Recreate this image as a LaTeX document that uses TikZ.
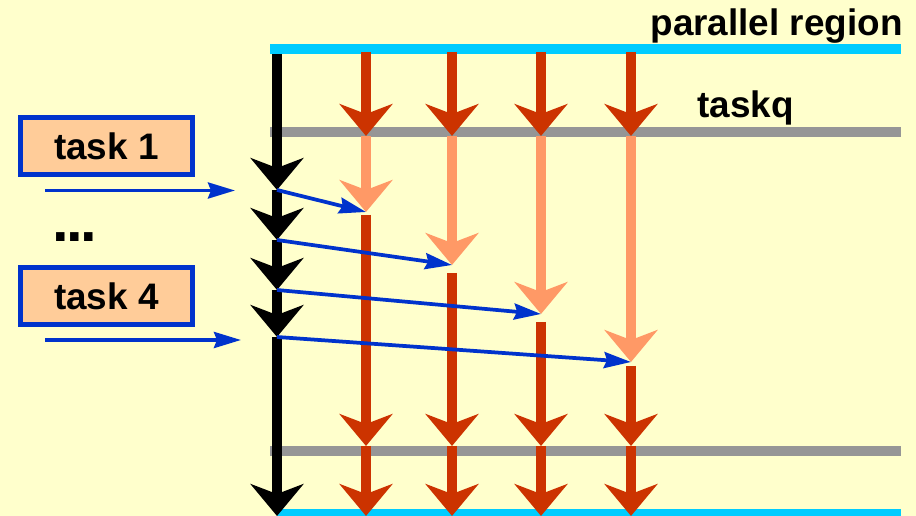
\documentclass[tikz,border=0pt]{standalone}
\usepackage{fontspec}
\setmainfont{Liberation Sans}
\usepackage{tikz}
\usetikzlibrary{arrows.meta}
\definecolor{bgyellow}{HTML}{FFFFCC}
\definecolor{regioncyan}{HTML}{00CCFF}
\definecolor{bargray}{HTML}{969696}
\definecolor{workred}{HTML}{CC3300}
\definecolor{waitorange}{HTML}{FF9966}
\definecolor{queueblue}{HTML}{0033CC}
\definecolor{taskpeach}{HTML}{FFCC99}

\begin{document}
\begin{tikzpicture}[x=0.02cm,y=-0.02cm,font=\bfseries\fontsize{21}{25}\selectfont]
		\tikzstyle{flow}=[line width=0.2cm,-{Stealth[length=0.64cm,width=1.06cm,inset=0.2cm]}]
		\tikzstyle{link}=[queueblue,line width=0.075cm,-{Stealth[length=0.54cm,width=0.32cm,inset=0.06cm]}]
		\tikzstyle{bar}=[line width=0.2cm]
		\tikzstyle{task}=[draw=queueblue,fill=taskpeach,line width=0.1cm,
			minimum width=3.44cm,minimum height=1.14cm,inner sep=0pt]
		
		\useasboundingbox (0,0) rectangle (916,516);
		\fill[bgyellow] (0,0) rectangle (916,516);
		
		% region / taskq lines
		\coordinate (r0) at (270,49);    \coordinate (r1) at (901,49);
		\coordinate (q0) at (270,132);   \coordinate (q1) at (901,132);
		\coordinate (b0) at (270,451.5); \coordinate (b1) at (901,451.5);
		\coordinate (e0) at (277,514);   \coordinate (e1) at (901,514);
		\draw[bar,regioncyan] (r0) -- (r1);
		\draw[bar,bargray] (q0) -- (q1);
		\draw[bar,bargray] (b0) -- (b1);
		\draw[bar,regioncyan] (e0) -- (e1);
		
		\node[anchor=base east,inner sep=0pt] (par) at (903,36) {parallel region};
		\node[anchor=base west,inner sep=0pt] (tq) at (697,118) {taskq};
		
		% master thread
		\coordinate (m0) at (277,54);
		\coordinate (m1) at (277,190);
		\coordinate (m2) at (277,240);
		\coordinate (m3) at (277,290);
		\coordinate (m4) at (277,337);
		\coordinate (m5) at (277,516);
		
		\path[flow,black]
		(m0) edge (m1)
		(m1) edge (m2)
		(m2) edge (m3)
		(m3) edge (m4)
		(m4) edge (m5);
		
		% worker threads
		\coordinate (c1a) at (366,52);  \coordinate (c1b) at (366,136);
		\coordinate (c1c) at (366,212); \coordinate (c1d) at (366,446);
		\coordinate (c1e) at (366,516);
		\coordinate (c2a) at (452,52);  \coordinate (c2b) at (452,136);
		\coordinate (c2c) at (452,265); \coordinate (c2d) at (452,446);
		\coordinate (c2e) at (452,516);
		\coordinate (c3a) at (541,52);  \coordinate (c3b) at (541,136);
		\coordinate (c3c) at (541,314); \coordinate (c3d) at (541,446);
		\coordinate (c3e) at (541,516);
		\coordinate (c4a) at (631,52);  \coordinate (c4b) at (631,136);
		\coordinate (c4c) at (631,362); \coordinate (c4d) at (631,446);
		\coordinate (c4e) at (631,516);
		
		\path[flow,workred]
		(c1a) edge (c1b)
		(c2a) edge (c2b)
		(c3a) edge (c3b)
		(c4a) edge (c4b);
		\path[flow,waitorange]
		(c1b) edge (c1c)
		(c2b) edge (c2c)
		(c3b) edge (c3c)
		(c4b) edge (c4c);
		\path[flow,workred]
		(c1c) edge [shorten <=0.06cm] (c1d)
		(c1d) edge (c1e)
		(c2c) edge [shorten <=0.16cm] (c2d)
		(c2d) edge (c2e)
		(c3c) edge [shorten <=0.16cm] (c3d)
		(c3d) edge (c3e)
		(c4c) edge [shorten <=0.08cm] (c4d)
		(c4d) edge (c4e);
		
		% tasks handed out
		\node[task] (task1) at (106.5,146) {task 1};
		\node (dots) at (75,237.5) {\fontsize{34}{34}\selectfont.\kern-1.5pt.\kern-1.5pt.};
		\node[task] (task4) at (106.5,296) {task 4};
		
		\coordinate (f1s) at (45,190.5); \coordinate (f1e) at (235,190.5);
		\coordinate (f4s) at (45,340);   \coordinate (f4e) at (241,340);
		
		\path[link]
		(f1s) edge (f1e)
		(f4s) edge (f4e)
		(m1) edge (c1c)
		(m2) edge (c2c)
		(m3) edge (c3c)
		(m4) edge (c4c);
\end{tikzpicture}
\end{document}
